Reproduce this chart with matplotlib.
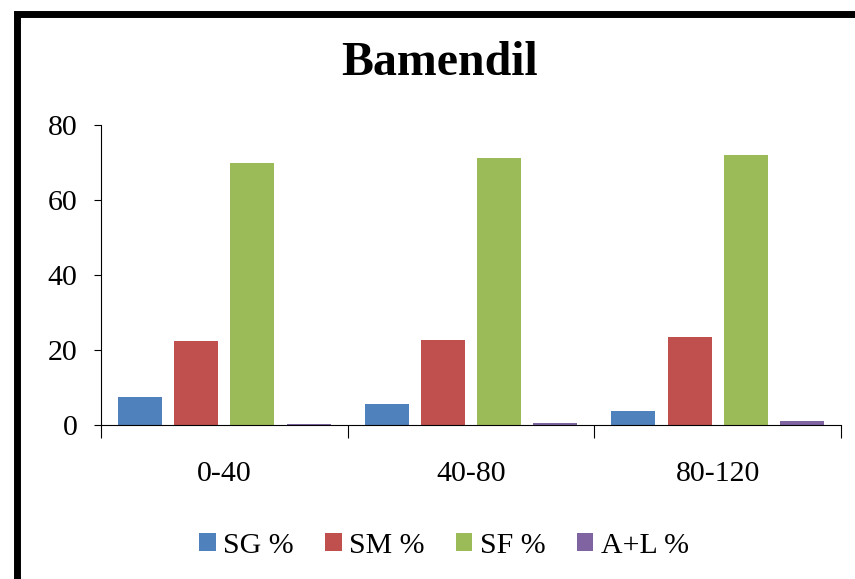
import matplotlib
matplotlib.use("Agg")
import matplotlib.pyplot as plt
import numpy as np
from matplotlib.patches import Rectangle

categories = ["0-40", "40-80", "80-120"]
series_names = ["SG %", "SM %", "SF %", "A+L %"]
sg = [7.5, 5.6, 3.7]
sm = [22.3, 22.6, 23.4]
sf = [70.0, 71.3, 72.0]
al = [0.2, 0.5, 1.2]
colors = ["#4F81BD", "#C0504D", "#9BBB59", "#8064A2"]

plt.rcParams['font.family'] = ['Liberation Serif', 'DejaVu Serif']

fig = plt.figure(figsize=(8.55, 5.79), dpi=100)
ax = fig.add_axes([101/855, 1-425/579, (841-101)/855, (425-125)/579])

x = np.arange(len(categories))
slot = 56/246
width = 44/246
for i, (vals, name, c) in enumerate(zip([sg, sm, sf, al], series_names, colors)):
    ax.bar(x + (i - 1.5) * slot, vals, width, color=c, label=name, zorder=2)

ax.set_xlim(-0.5, 2.5)
ax.set_ylim(0, 80)
ax.set_yticks([0, 20, 40, 60, 80])
ax.tick_params(axis='y', labelsize=21.5, length=5, width=0.8, pad=12, direction='out')
ax.set_xticks(x)
ax.set_xticklabels(categories)
ax.tick_params(axis='x', which='major', length=0, labelsize=21.5, pad=26)
ax.set_xticks([-0.5, 0.5, 1.5, 2.5], minor=True)
ax.tick_params(axis='x', which='minor', length=9, width=0.8, direction='out')
for s in ['top', 'right']:
    ax.spines[s].set_visible(False)
ax.spines['left'].set_linewidth(0.8)
ax.spines['bottom'].set_linewidth(0.8)

fig.text(440/855, 1-63/579, "Bamendil", ha='center', va='center', fontsize=34.5, fontweight='bold')

leg = fig.legend(loc='center', bbox_to_anchor=(444/855, 1-546/579), ncol=4, frameon=False,
                 fontsize=21.5, handlelength=0.55, handleheight=0.55, handletextpad=0.25, columnspacing=1.05)

fig.patches.append(Rectangle((17/855, -0.5), 2, 1 - 13.5/579 + 0.5, transform=fig.transFigure,
                             fill=False, edgecolor='black', linewidth=5, zorder=10))

fig.savefig("out.png", dpi=100)
